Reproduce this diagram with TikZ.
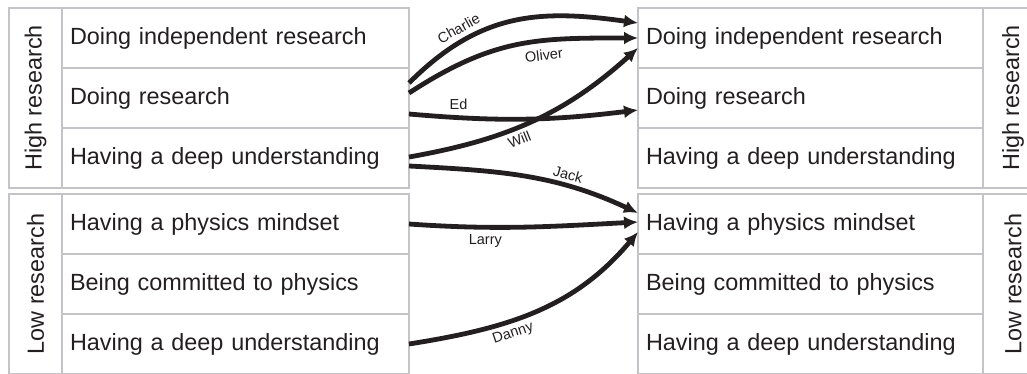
\documentclass[tikz,border=0pt]{standalone}
\usepackage{fontspec}
\setmainfont{Liberation Sans}
\usepackage{xcolor}
\usetikzlibrary{positioning, arrows.meta}
\definecolor{inkdark}{HTML}{231F20}
\definecolor{gridgray}{HTML}{C4C4C8}

\begin{document}
\begin{tikzpicture}[x=1pt, y=1pt,
    cell/.style={draw=gridgray, line width=1.3pt, outer sep=0pt, inner ysep=0pt,
        inner xsep=8pt, minimum height=60pt, text width=#1, align=left,
        text=inkdark, font=\fontsize{23.4}{28}\selectfont},
    cell/.default=331pt,
    grp/.style={draw=gridgray, line width=1.3pt, outer sep=0pt, inner sep=0pt,
        minimum height=180pt, minimum width=#1, text=inkdark,
        font=\fontsize{23.4}{28}\selectfont},
    grp/.default=53pt,
    conn/.style={-{Latex[length=14pt, width=13pt]}, line width=4.8pt, draw=inkdark},
    who/.style={font=\fontsize{14.5}{16}\selectfont, text=inkdark, inner sep=4pt}]
    \useasboundingbox (0,0) rectangle (1027,373);

    % 1. Left column: high research group
    \node[grp, anchor=north west] (hgL) at (9,365) {\rotatebox{90}{High research}};
    \node[cell, anchor=north west] (hl1) at (hgL.north east) {Doing independent research};
    \node[cell, below=0pt of hl1] (hl2) {Doing research};
    \node[cell, below=0pt of hl2] (hl3) {Having a deep understanding};

    % 2. Left column: low research group
    \node[grp, below=6pt of hgL] (lgL) {\rotatebox{90}{Low research}};
    \node[cell, anchor=north west] (ll1) at (lgL.north east) {Having a physics mindset};
    \node[cell, below=0pt of ll1] (ll2) {Being committed to physics};
    \node[cell, below=0pt of ll2] (ll3) {Having a deep understanding};

    % 3. Right column: high research group
    \node[cell=329pt, anchor=north west] (hr1) at (638,365) {Doing independent research};
    \node[cell=329pt, below=0pt of hr1] (hr2) {Doing research};
    \node[cell=329pt, below=0pt of hr2] (hr3) {Having a deep understanding};
    \node[grp=60pt, anchor=north west] (hgR) at (hr1.north east) {\rotatebox{90}{High research}};

    % 4. Right column: low research group
    \node[cell=329pt, below=6pt of hr3] (lr1) {Having a physics mindset};
    \node[cell=329pt, below=0pt of lr1] (lr2) {Being committed to physics};
    \node[cell=329pt, below=0pt of lr2] (lr3) {Having a deep understanding};
    \node[grp=60pt, anchor=north west] (lgR) at (lr1.north east) {\rotatebox{90}{Low research}};

    % 5. Students moving between ideas
    \draw[conn] ([yshift=15pt]hl2.east) to[out=45, in=172, looseness=1.08]
        node[who, sloped, above, pos=0.27, inner sep=5pt] {Charlie} ([yshift=15pt]hr1.west);
    \draw[conn] ([yshift=5pt]hl2.east) to[out=33, in=180, looseness=1.1]
        node[who, sloped, below, pos=0.62, inner sep=6.5pt] {Oliver} (hr1.west);
    \draw[conn] ([yshift=-16pt]hl2.east) to[out=-5, in=187]
        node[who, above, pos=0.2, inner sep=6pt] {Ed} ([yshift=-12pt]hr2.west);
    \draw[conn] ([yshift=1pt]hl3.east) to[out=10, in=222]
        node[who, sloped, below, pos=0.42] {Will} ([yshift=-10pt]hr1.west);
    \draw[conn] ([yshift=-8pt]hl3.east) to[out=-3, in=155]
        node[who, sloped, above, pos=0.68] {Jack} ([yshift=11pt]lr1.west);
    \draw[conn] (ll1.east) to[out=-4, in=183]
        node[who, below, pos=0.32, inner sep=5pt] {Larry} ([yshift=2pt]lr1.west);
    \draw[conn] (ll3.east) to[out=9, in=230]
        node[who, sloped, below, pos=0.38] {Danny} ([yshift=-8pt]lr1.west);
\end{tikzpicture}
\end{document}
